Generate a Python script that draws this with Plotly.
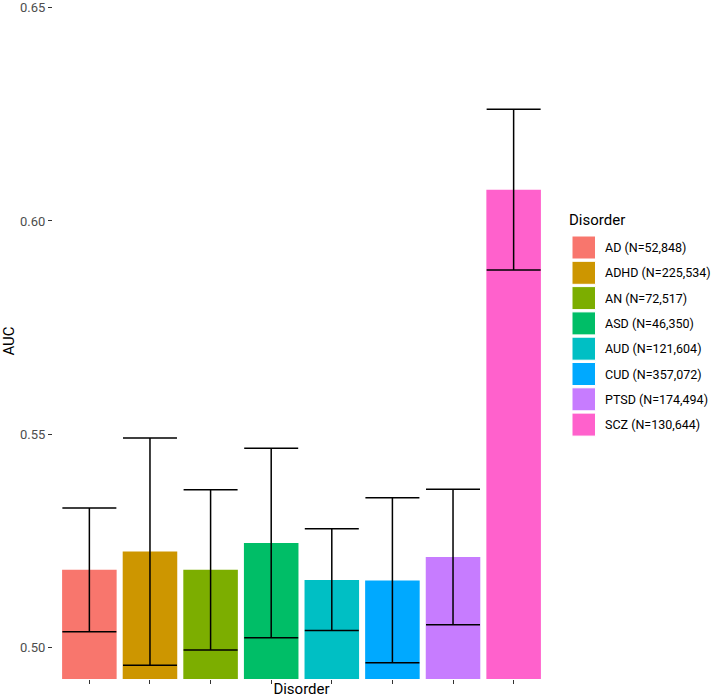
import plotly.graph_objects as go

disorders = ["AD", "ADHD", "AN", "ASD", "AUD", "CUD", "PTSD", "SCZ"]
sample_sizes = ["52,848", "225,534", "72,517", "46,350", "121,604", "357,072", "174,494", "130,644"]
auc = [0.5182, 0.5225, 0.5182, 0.5245, 0.5158, 0.5157, 0.5212, 0.6073]
ci_lower = [0.5037, 0.4958, 0.4994, 0.5023, 0.5040, 0.4964, 0.5053, 0.5885]
ci_upper = [0.5327, 0.5491, 0.5370, 0.5467, 0.5278, 0.5351, 0.5371, 0.6262]
colors = ["#F8766D", "#CD9600", "#7CAE00", "#00BE67", "#00BFC4", "#00A9FF", "#C77CFF", "#FF61CC"]
y_ticks = [0.50, 0.55, 0.60, 0.65]

FONT = "Roboto, Liberation Sans, Arial, sans-serif"
W, H = 720, 698
ML, MR, MT, MB = 53, 170, 3, 19
PH = H - MT - MB  # plot height in px
PW = W - ML - MR

labels = [f"{d} (N={n})" for d, n in zip(disorders, sample_sizes)]

fig = go.Figure()
for i, d in enumerate(disorders):
    fig.add_trace(go.Bar(
        x=[d], y=[auc[i]],
        name=labels[i],
        showlegend=False,
        marker=dict(color=colors[i], line=dict(width=0)),
        width=0.9,
        error_y=dict(type="data", symmetric=False,
                     array=[ci_upper[i] - auc[i]],
                     arrayminus=[auc[i] - ci_lower[i]],
                     color="black", thickness=1.5, width=27),
    ))

# legend drawn in paper coordinates (ggplot-style large keys)
def px_x(x):
    return (x - ML) / PW

def px_y(y):
    return (H - MB - y) / PH

shapes = []
annotations = []
annotations.append(dict(text="Disorder", x=px_x(567), y=px_y(219.5), xref="paper", yref="paper",
                        xanchor="left", yanchor="middle", showarrow=False,
                        font=dict(size=15, family=FONT, color="black")))
key_top0, key_step, key_h = 236.0, 25.3, 23.0
for i, lab in enumerate(labels):
    top = key_top0 + i * key_step
    shapes.append(dict(type="rect", xref="paper", yref="paper",
                       x0=px_x(572), x1=px_x(595.5), y0=px_y(top + key_h), y1=px_y(top),
                       fillcolor=colors[i], line=dict(color="white", width=1)))
    annotations.append(dict(text=lab, x=px_x(603), y=px_y(top + key_h / 2), xref="paper", yref="paper",
                            xanchor="left", yanchor="middle", showarrow=False,
                            font=dict(size=12.5, family=FONT, color="black")))

fig.update_layout(
    width=W, height=H,
    margin=dict(l=ML, r=MR, t=MT, b=MB, autoexpand=False),
    plot_bgcolor="white", paper_bgcolor="white",
    barmode="overlay",
    font=dict(family=FONT, color="black"),
    showlegend=False,
    shapes=shapes,
    annotations=annotations,
    xaxis=dict(
        range=[-0.6, 7.6], showgrid=False, zeroline=False,
        showticklabels=False, ticks="outside", ticklen=4,
        tickcolor="#333333", tickwidth=1,
        title=dict(text="Disorder", font=dict(size=15, family=FONT), standoff=0),
        showline=False,
    ),
    yaxis=dict(
        range=[0.4926, 0.6511], showgrid=False, zeroline=False,
        tickvals=y_ticks, tickformat=".2f",
        ticks="outside", ticklen=4, tickcolor="#333333", tickwidth=1,
        tickfont=dict(size=13, color="#4D4D4D", family=FONT),
        ticklabeloverflow="allow",
        title=dict(text="AUC", font=dict(size=15, family=FONT), standoff=8),
        showline=False,
    ),
)

fig.write_html("out.html",
               config={"displayModeBar": False},
               post_script="document.body.style.margin='0px';document.body.style.padding='0px';document.body.style.overflow='hidden';")
